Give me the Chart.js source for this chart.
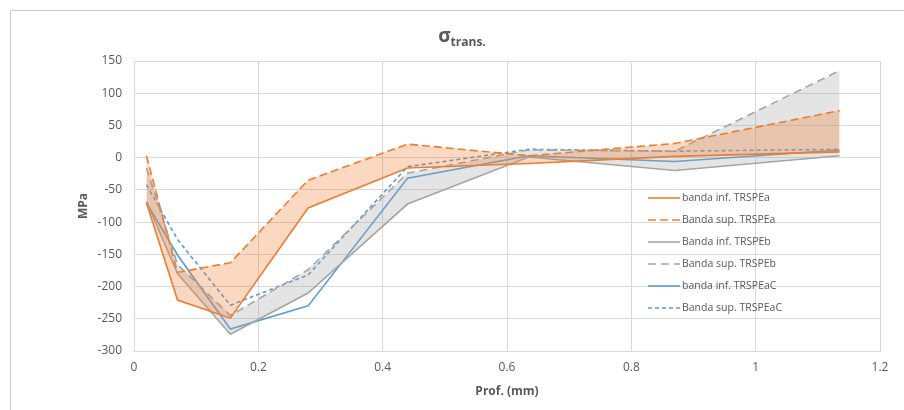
<!DOCTYPE html>
<html>
<head>
<meta charset="utf-8">
<script src="https://cdn.jsdelivr.net/npm/chart.js@4"></script>
<style>
  html, body { margin: 0; padding: 0; background: #fff; }
  #wrap { width: 904px; height: 410px; position: relative; }
</style>
</head>
<body>
<div id="wrap"><canvas id="chart" width="904" height="410"></canvas></div>
<script>
// Profundidad (mm)
const prof = [0.02, 0.07, 0.155, 0.28, 0.44, 0.635, 0.87, 1.135];

// sigma trans. (MPa)
const infTRSPEa  = [-70, -221, -249, -78, -16, -9, 2, 9];
const supTRSPEa  = [3, -178, -163, -35, 21, 3, 22, 73];
const infTRSPEb  = [-68, -180, -274, -210, -72, 1, -20, 3];
const supTRSPEb  = [-16, -166, -245, -174, -24, 12, 10, 135];
const infTRSPEaC = [-70, -151, -266, -230, -32, 3, -6, 12];
const supTRSPEaC = [-42, -127, -229, -182, -14, 13, 10, 13];

const xTicks = [0, 0.2, 0.4, 0.6, 0.8, 1, 1.2];
const yTicks = [150, 100, 50, 0, -50, -100, -150, -200, -250, -300];

const ORANGE = "#ED7D31";
const GRAY = "#A5A5A5";
const BLUE = "#5B9BD5";
const FONT = "'Open Sans', 'Liberation Sans', sans-serif";

function pts(values) {
    return prof.map((x, i) => ({ x: x, y: values[i] }));
}

function serie(label, values, color, dash, fill, fillColor) {
    return {
        label: label,
        data: pts(values),
        borderColor: color,
        borderWidth: 1.6,
        borderDash: dash,
        pointRadius: 0,
        tension: 0,
        fill: fill,
        backgroundColor: fillColor || color
    };
}

// Title, axis titles, legend and outer frame
const decor = {
    id: "decor",
    afterDraw(chart) {
        const ctx = chart.ctx;
        const area = chart.chartArea;
        ctx.save();

        // outer frame (top and left edges visible)
        ctx.strokeStyle = "#c8c8c8";
        ctx.lineWidth = 1;
        ctx.beginPath();
        ctx.moveTo(10.5, 410);
        ctx.lineTo(10.5, 10.5);
        ctx.lineTo(904, 10.5);
        ctx.stroke();

        // title sigma_trans.
        ctx.fillStyle = "#595959";
        ctx.textBaseline = "alphabetic";
        const sig = "σ";
        const sub = "trans.";
        ctx.font = "bold 12px " + FONT;
        const subW = ctx.measureText(sub).width;
        ctx.font = "bold 19px " + FONT;
        const sigW = ctx.measureText(sig).width;
        const startX = 462 - (sigW + subW) / 2;
        ctx.textAlign = "left";
        ctx.fillText(sig, startX, 42);
        ctx.font = "bold 12px " + FONT;
        ctx.fillText(sub, startX + sigW, 46);

        // axis titles
        ctx.font = "bold 12px " + FONT;
        ctx.textAlign = "center";
        ctx.textBaseline = "middle";
        ctx.fillText("Prof. (mm)", (area.left + area.right) / 2, 392);
        ctx.save();
        ctx.translate(84, (area.top + area.bottom) / 2);
        ctx.rotate(-Math.PI / 2);
        ctx.fillText("MPa", 0, 0);
        ctx.restore();

        // legend inside plot
        ctx.font = "10.5px " + FONT;
        ctx.textAlign = "left";
        ctx.textBaseline = "middle";
        chart.data.datasets.forEach((ds, i) => {
            const y = 198 + i * 22;
            ctx.strokeStyle = ds.borderColor;
            ctx.lineWidth = 1.6;
            ctx.setLineDash(ds.borderDash || []);
            ctx.beginPath();
            ctx.moveTo(648, y);
            ctx.lineTo(680, y);
            ctx.stroke();
            ctx.setLineDash([]);
            ctx.fillStyle = "#595959";
            ctx.fillText(ds.label, 682, y);
        });
        ctx.restore();
    }
};

const ctx = document.getElementById("chart").getContext("2d");
new Chart(ctx, {
    type: "line",
    data: {
        datasets: [
            serie("banda inf. TRSPEa", infTRSPEa, ORANGE, [], false),
            serie("Banda sup. TRSPEa", supTRSPEa, ORANGE, [8, 4], "-1", "rgba(237,125,49,0.3)"),
            serie("Banda inf. TRSPEb", infTRSPEb, GRAY, [], false),
            serie("Banda sup. TRSPEb", supTRSPEb, GRAY, [8, 5], "-1", "rgba(165,165,165,0.3)"),
            serie("banda inf. TRSPEaC", infTRSPEaC, BLUE, [], false),
            serie("Banda sup. TRSPEaC", supTRSPEaC, BLUE, [4, 3], false)
        ]
    },
    options: {
        responsive: false,
        animation: false,
        devicePixelRatio: 1,
        layout: { padding: { left: 0, right: 24, top: 61, bottom: 0 } },
        plugins: {
            legend: { display: false },
            title: { display: false },
            tooltip: { enabled: false },
            filler: { propagate: false }
        },
        scales: {
            x: {
                type: "linear",
                min: 0,
                max: 1.2,
                afterBuildTicks(scale) { scale.ticks = xTicks.map(v => ({ value: v })); },
                afterFit(scale) { scale.height = 59; },
                grid: { color: "#d9d9d9", drawTicks: false },
                border: { color: "#d9d9d9" },
                ticks: {
                    color: "#595959",
                    font: { family: FONT, size: 12 },
                    padding: 9,
                    maxRotation: 0,
                    callback: v => String(v)
                }
            },
            y: {
                min: -300,
                max: 150,
                afterBuildTicks(scale) { scale.ticks = yTicks.map(v => ({ value: v })); },
                afterFit(scale) { scale.width = 134; },
                grid: { color: "#d9d9d9", drawTicks: false },
                border: { color: "#d9d9d9" },
                ticks: {
                    color: "#595959",
                    font: { family: FONT, size: 12 },
                    padding: 12
                }
            }
        }
    },
    plugins: [decor]
});
</script>
</body>
</html>
